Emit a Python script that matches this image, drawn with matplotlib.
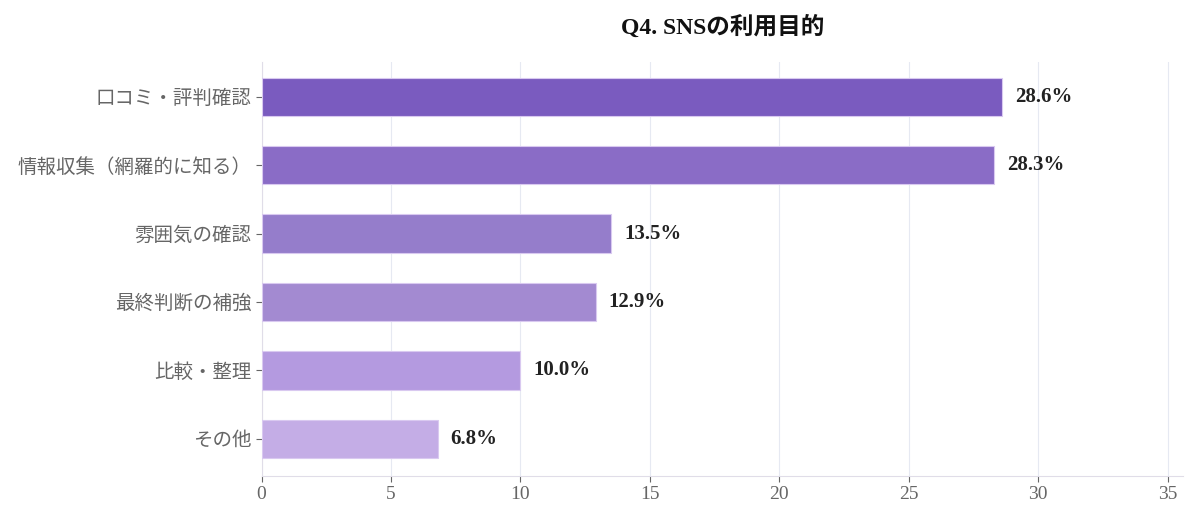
import matplotlib
matplotlib.use('Agg')
import matplotlib.pyplot as plt

plt.rcParams['font.family'] = ['Liberation Serif', 'Noto Sans CJK JP', 'DejaVu Sans']

categories = ['口コミ・評判確認', '情報収集（網羅的に知る）', '雰囲気の確認',
              '最終判断の補強', '比較・整理', 'その他']
values = [28.6, 28.3, 13.5, 12.9, 10.0, 6.8]
colors = ['#7a5bbf', '#8a6cc6', '#957dcb', '#a38ad1', '#b49ae0', '#c4ade6']
xticks = [0, 5, 10, 15, 20, 25, 30, 35]

fig, ax = plt.subplots(figsize=(12, 5.24), dpi=100)
fig.subplots_adjust(left=0.218, right=0.986, top=0.882, bottom=0.092)

y = list(range(len(categories)))
ax.barh(y, values, height=0.56, color=colors, edgecolor='#d9c9f0', linewidth=0.8, zorder=3)
ax.set_ylim(5.54, -0.51)

for yi, v in zip(y, values):
    ax.text(v + 0.5, yi, f'{v:.1f}%', va='center', ha='left',
            fontsize=15, fontweight='bold', color='#222222', zorder=4)

ax.set_yticks(y)
ax.set_yticklabels(categories, fontsize=14, color='#555555')
ax.set_xticks(xticks)
ax.set_xticklabels([str(t) for t in xticks], fontsize=14, color='#666666')
ax.set_xlim(0, 35.6)

ax.grid(axis='x', color='#e6e9f2', linewidth=0.8, zorder=0)
ax.set_axisbelow(True)
for s in ['top', 'right']:
    ax.spines[s].set_visible(False)
ax.spines['left'].set_color('#e0dde8')
ax.spines['bottom'].set_color('#e0dde8')
ax.tick_params(axis='both', colors='#666666', length=4)

ax.set_title('Q4. SNSの利用目的', fontsize=17, fontweight='bold', color='#111111', pad=20)

fig.savefig('out.png', dpi=100, facecolor='white')
